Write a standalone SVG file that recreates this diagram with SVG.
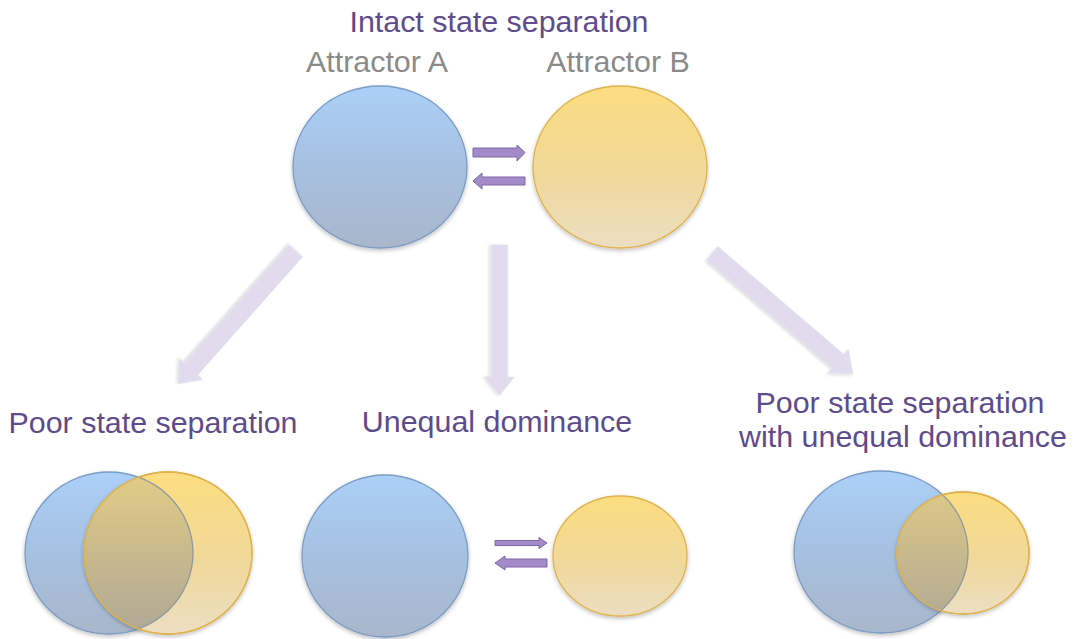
<svg xmlns="http://www.w3.org/2000/svg" width="1079" height="639" viewBox="0 0 1079 639">
  <style>
    .title { font-family: "Liberation Sans", Arial, sans-serif; font-size: 30.4px; fill: #5d4b8c; text-anchor: middle; }
    .attr { font-family: "Liberation Sans", Arial, sans-serif; font-size: 30.4px; fill: #8a8a8a; text-anchor: middle; }
    .blue { fill: url(#gBlue); stroke: #7b9cc4; stroke-width: 1.3; filter: url(#shadow); }
    .yellow { fill: url(#gYellow); stroke: #dfb24c; stroke-width: 1.3; filter: url(#shadow); }
    .ovl { fill: url(#gOverlap); stroke: #8f9a9e; stroke-width: 1.3; }
    .yedge { fill: none; stroke: #dfb24c; stroke-width: 1.3; }
    .big { fill: #e0dcee; filter: url(#shadow2); }
    .small { fill: #a28bc8; stroke: #7d66a6; stroke-width: 1; }
  </style>
  <defs>
    <linearGradient id="gBlue" x1="0" y1="0" x2="0" y2="1">
      <stop offset="0" stop-color="#abd0f8"/>
      <stop offset="0.5" stop-color="#a6c0e1"/>
      <stop offset="1" stop-color="#a9b7ca"/>
    </linearGradient>
    <linearGradient id="gYellow" x1="0" y1="0" x2="0" y2="1">
      <stop offset="0" stop-color="#fcdd80"/>
      <stop offset="0.55" stop-color="#f0d89a"/>
      <stop offset="1" stop-color="#ecdec2"/>
    </linearGradient>
    <linearGradient id="gOverlap" x1="0" y1="0" x2="0" y2="1">
      <stop offset="0" stop-color="#e2cd86"/>
      <stop offset="0.5" stop-color="#c9b98c"/>
      <stop offset="1" stop-color="#aea897"/>
    </linearGradient>
    <clipPath id="clipY1"><ellipse cx="168" cy="553" rx="84" ry="81"/></clipPath>
    <clipPath id="clipY2"><ellipse cx="963" cy="553" rx="66" ry="61"/></clipPath>
    <filter id="shadow" x="-10%" y="-10%" width="120%" height="125%">
      <feGaussianBlur in="SourceAlpha" stdDeviation="2"/>
      <feOffset dx="0" dy="2" result="b"/>
      <feComponentTransfer><feFuncA type="linear" slope="0.25"/></feComponentTransfer>
      <feMerge><feMergeNode/><feMergeNode in="SourceGraphic"/></feMerge>
    </filter>
    <filter id="shadow2" x="-20%" y="-20%" width="140%" height="140%">
      <feGaussianBlur in="SourceAlpha" stdDeviation="1.5"/>
      <feOffset dx="0" dy="2" result="b"/>
      <feComponentTransfer><feFuncA type="linear" slope="0.15"/></feComponentTransfer>
      <feMerge><feMergeNode/><feMergeNode in="SourceGraphic"/></feMerge>
    </filter>
  </defs>
  <rect width="1079" height="639" fill="#ffffff"/>

  <g id="labels">
    <text class="title" x="499" y="32">Intact state separation</text>
    <text class="attr" x="377" y="72">Attractor A</text>
    <text class="attr" x="618" y="72">Attractor B</text>
  </g>

  <g id="node-intact">
    <ellipse class="blue" cx="380" cy="167" rx="87" ry="81"/>
    <ellipse class="yellow" cx="620" cy="167" rx="87" ry="81"/>
  </g>

  <g id="node-poor">
    <text class="title" x="153" y="433">Poor state separation</text>
    <ellipse class="blue" cx="109" cy="553" rx="84" ry="81"/>
    <ellipse class="yellow" cx="168" cy="553" rx="84" ry="81"/>
    <ellipse class="ovl" clip-path="url(#clipY1)" cx="109" cy="553" rx="84" ry="81"/>
    <ellipse class="yedge" cx="168" cy="553" rx="84" ry="81"/>
  </g>

  <g id="node-unequal">
    <text class="title" x="497" y="432">Unequal dominance</text>
    <ellipse class="blue" cx="385" cy="556" rx="83" ry="81"/>
    <ellipse class="yellow" cx="620" cy="556" rx="67" ry="60"/>
  </g>

  <g id="node-poor-unequal">
    <text class="title" x="900" y="413">Poor state separation</text>
    <text class="title" x="903" y="447">with unequal dominance</text>
    <ellipse class="blue" cx="881" cy="552" rx="87" ry="81"/>
    <ellipse class="yellow" cx="963" cy="553" rx="66" ry="61"/>
    <ellipse class="ovl" clip-path="url(#clipY2)" cx="881" cy="552" rx="87" ry="81"/>
    <ellipse class="yedge" cx="963" cy="553" rx="66" ry="61"/>
  </g>

  <g id="connectors">
    <polygon class="big" transform="translate(296,251) rotate(131.6)" points="0,-9 158,-9 158,-16 178,0 158,16 158,9 0,9"/>
    <polygon class="big" transform="translate(499.5,245) rotate(90)" points="0,-8.5 132,-8.5 132,-15 151,0 132,15 132,8.5 0,8.5"/>
    <polygon class="big" transform="translate(712,253) rotate(40.6)" points="0,-9 166,-9 166,-16 186,0 166,16 166,9 0,9"/>

    <polygon class="small" points="473,148 517,148 517,145 525,152.5 517,161 517,157 473,157"/>
    <polygon class="small" points="525,177 482,177 482,173 473,181 482,189 482,185 525,185"/>

    <polygon class="small" points="495,540.5 539,540.5 539,537.5 547,543 539,548.5 539,545.5 495,545.5"/>
    <polygon class="small" points="547,559 505,559 505,556 495,563 505,570 505,567 547,567"/>
  </g>
</svg>
